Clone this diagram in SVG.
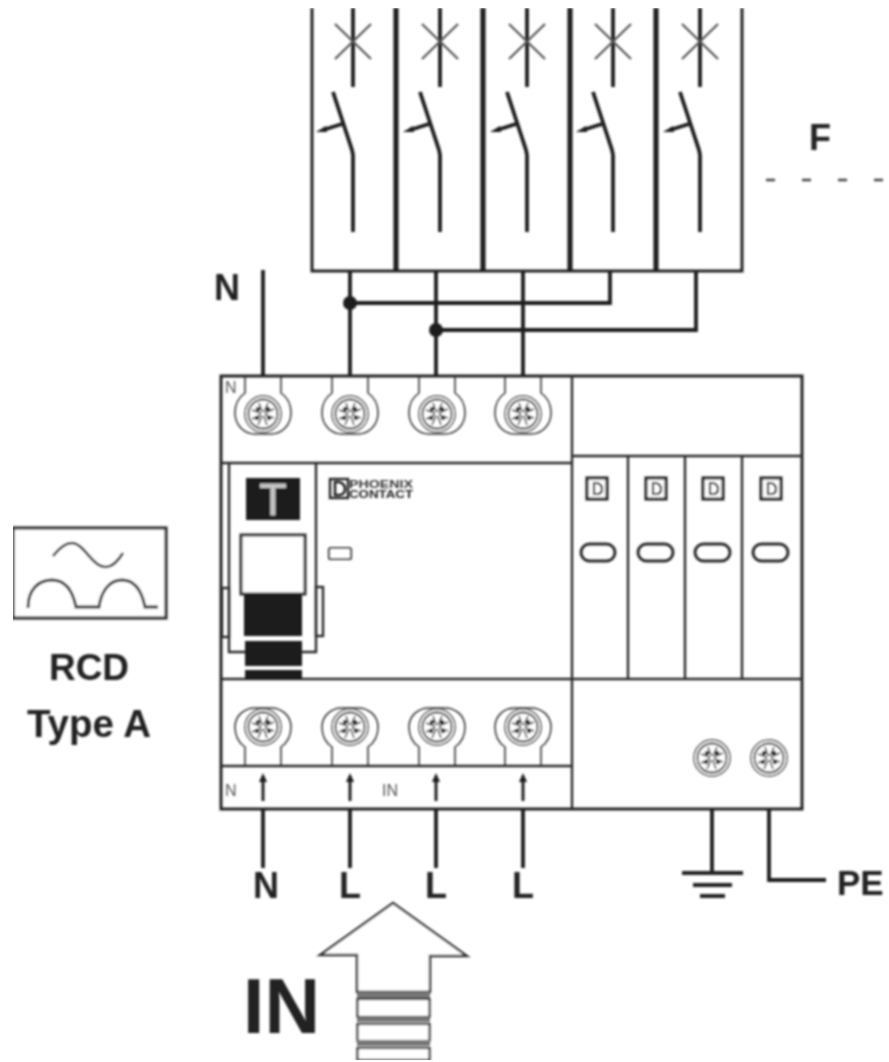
<svg xmlns="http://www.w3.org/2000/svg" xmlns:xlink="http://www.w3.org/1999/xlink" width="889" height="1062" viewBox="0 0 889 1062">
<style>
text{font-family:"Liberation Sans",Arial,sans-serif;fill:#222}
.b{font-weight:bold}
.c{text-anchor:middle}
.l{fill:none;stroke:#222;stroke-width:3}
.w{fill:none;stroke:#1c1c1c;stroke-width:3.8;stroke-linecap:butt}
.tb{fill:none;stroke:#1c1c1c;stroke-width:5}
.m{fill:none;stroke:#2a2a2a;stroke-width:2.4}
.t{fill:none;stroke:#333;stroke-width:1.5}
.k{fill:#1c1c1c}
.s{font-size:16px;fill:#555}
</style>
<defs>
<filter id="soft" x="0" y="0" width="100%" height="100%"><feGaussianBlur stdDeviation="0.8"/></filter>
<g id="screw">
<circle r="18" fill="#fff" stroke="#444" stroke-width="1.5"/>
<circle r="14.500" fill="none" stroke="#333" stroke-width="1.8"/>
<path d="M-11-4L11 4M-11 5L11-5M-4-11L4 11M5-11L-5 11" stroke="#333" stroke-width="1.5"/>
<circle cx="-5" cy="-5" r="2.300" fill="#222"/><circle cx="5" cy="-5" r="2.300" fill="#222"/><circle cx="-6" cy="4" r="2.300" fill="#222"/><circle cx="6" cy="4" r="2.300" fill="#222"/><circle cy="0" r="2.200" fill="#fff"/>
</g>
<g id="termTop">
<path class="t" d="M-18 1V17C-24 21-28 28-28 37C-28 49-19 58-8 58H8C19 58 28 49 28 37C28 28 24 21 18 17V1"/>
<use xlink:href="#screw" y="38"/>
</g>
<g id="termBot">
<path class="t" d="M-18-1V-19C-24-23-28-30-28-39C-28-50-19-58-8-58H8C19-58 28-50 28-39C28-30 24-23 18-19V-1"/>
<use xlink:href="#screw" y="-39"/>
</g>
<g id="breaker">
<path class="w" d="M0 8V87"/>
<path d="M-18 24L18 59M18 24L-18 59" stroke="#555" stroke-width="2.200"/>
<path class="w" stroke-linejoin="round" d="M-20 92L-1 150L0 155V232"/>
<path class="w" d="M-11 124L-30 130"/>
<path class="k" d="M-37 132L-27 126L-26 132Z"/>
</g>
<g id="inArrow"><path d="M0-7V15" stroke="#222" stroke-width="3"/><path class="k" d="M0-13L4-4H-4Z"/></g>
<g id="miniLogo"><rect x="0" y="0" width="20" height="21" fill="#fff" stroke="#1f1f1f" stroke-width="3"/><path d="M7 5H10C14 6 15 9 15 11C15 14 13 16 10 16H7Z" fill="none" stroke="#222" stroke-width="2.200"/></g>
</defs>
<rect width="889" height="1062" fill="#fff"/>
<g filter="url(#soft)">
<g id="connectors">
<path class="l" d="M312 8V271H742V8"/>
<path class="tb" d="M396 8V271M483 8V271M570 8V271M656 8V271"/>
<path class="w" d="M263 270V375M350 271V375M436 271V375M523 271V375"/>
<path class="w" d="M350 303H610V271M436 330H696V271"/>
<circle class="k" cx="350" cy="303" r="7"/>
<circle class="k" cx="436" cy="330" r="7"/>
<path class="w" d="M263 808V868M350 808V868M436 808V868M523 808V868"/>
<path class="w" d="M712 808V873M769 808V880H826"/>
<path d="M682 873H743M693 885H732M700 896H725" stroke="#222" stroke-width="4"/>
</g>
<g id="breakers">
<use xlink:href="#breaker" x="353"/><use xlink:href="#breaker" x="440"/><use xlink:href="#breaker" x="527"/><use xlink:href="#breaker" x="613"/><use xlink:href="#breaker" x="700"/>
</g>
<g id="fLabel">
<text class="b c" x="820" y="150" font-size="36">F</text>
<path d="M766 180H889" stroke="#444" stroke-width="2.400" stroke-dasharray="9 27"/>
</g>
<g id="topN"><text class="b c" x="227" y="300" font-size="36">N</text></g>
<g id="device">
<rect x="221" y="376" width="581" height="433" fill="#fff" class="l"/>
<path class="m" d="M221 463H572M572 456H802M221 679H802M221 766H572M572 376V808"/>
<path class="m" d="M628 456V679M685 456V679M742 456V679"/>
<g id="topTerminals">
<use xlink:href="#termTop" x="263" y="376"/><use xlink:href="#termTop" x="350" y="376"/><use xlink:href="#termTop" x="437" y="376"/><use xlink:href="#termTop" x="523" y="376"/>
</g>
<g id="botTerminals">
<use xlink:href="#termBot" x="263" y="766"/><use xlink:href="#termBot" x="350" y="766"/><use xlink:href="#termBot" x="437" y="766"/><use xlink:href="#termBot" x="523" y="766"/>
</g>
<text class="s" x="225" y="393">N</text>
<text class="s" x="225" y="796">N</text>
<text class="s" x="382" y="796">IN</text>
<use xlink:href="#inArrow" x="263" y="786"/><use xlink:href="#inArrow" x="350" y="786"/><use xlink:href="#inArrow" x="436" y="786"/><use xlink:href="#inArrow" x="523" y="786"/>
<g id="testModule">
<path class="m" d="M229 463V652H245M302 652H316V463"/>
<rect class="m" x="222" y="588" width="7" height="49"/>
<rect class="m" x="316" y="587" width="7" height="49"/>
<rect x="246" y="478" width="54" height="42" fill="#1a1a1a"/>
<text x="273" y="515" font-size="44" class="c" style="fill:#c4c4c4;stroke:#c4c4c4;stroke-width:1">T</text>
<rect x="241" y="535" width="64" height="59" fill="#fff" stroke="#333" stroke-width="3"/>
<rect x="244" y="594" width="58" height="42" fill="#1a1a1a"/>
<rect x="245" y="641" width="57" height="25" fill="#1a1a1a"/>
<rect x="245" y="670" width="57" height="9" fill="#1a1a1a"/>
</g>
<g id="logo">
<rect x="330" y="479" width="18" height="19" fill="none" stroke="#222" stroke-width="2.400"/>
<path d="M335 482H339C343 483 345 486 345 489C345 492 343 495 339 495H335Z" fill="none" stroke="#222" stroke-width="2.600"/>
<text class="b" x="349" y="488" font-size="10" textLength="64" lengthAdjust="spacingAndGlyphs" style="fill:#333">PHOENIX</text>
<text class="b" x="349" y="498" font-size="10" textLength="64" lengthAdjust="spacingAndGlyphs" style="fill:#222">CONTACT</text>
</g>
<rect x="329" y="548" width="22" height="11" rx="1.500" fill="#fff" stroke="#444" stroke-width="2.200"/>
<g id="spdModules">
<use xlink:href="#miniLogo" x="587" y="478"/><use xlink:href="#miniLogo" x="646" y="478"/><use xlink:href="#miniLogo" x="703" y="478"/><use xlink:href="#miniLogo" x="761" y="478"/>
<rect class="m" style="stroke-width:3" x="581" y="544" width="34" height="17" rx="8.500"/>
<rect class="m" style="stroke-width:3" x="638" y="544" width="35" height="17" rx="8.500"/>
<rect class="m" style="stroke-width:3" x="695" y="544" width="35" height="17" rx="8.500"/>
<rect class="m" style="stroke-width:3" x="753" y="544" width="35" height="17" rx="8.500"/>
</g>
<use xlink:href="#screw" x="712" y="758"/><use xlink:href="#screw" x="769" y="758"/>
</g>
<g id="bottomLabels">
<text class="b c" x="266" y="898" font-size="36">N</text>
<text class="b c" x="350" y="898" font-size="36">L</text>
<text class="b c" x="436" y="898" font-size="36">L</text>
<text class="b c" x="523" y="898" font-size="36">L</text>
<text class="b" x="837" y="895" font-size="35">PE</text>
</g>
<g id="rcdSymbol">
<rect x="13" y="528" width="153" height="90" fill="#fff" stroke="#333" stroke-width="3.200"/>
<path class="m" style="stroke-width:2.600" d="M53 556C60 547 66 543 72 543C84 543 92 567 106 567C112 567 118 561 123 553"/>
<path class="m" style="stroke-width:2.800" d="M28 608C28 590 38 580 52 580C66 580 73 592 76 607H99C101 592 109 580 122 580C135 580 142 592 145 607H158"/>
<text class="b c" x="89" y="680" font-size="37">RCD</text>
<text class="b c" x="89" y="737" font-size="38.500">Type A</text>
</g>
<g id="inSymbol">
<text class="b" x="243" y="1033" font-size="77">IN</text>
<path d="M320 955L393 903L467 956H430V992H357V955Z" fill="#fff" stroke="#333" stroke-width="2.400"/>
<rect x="357" y="992" width="73" height="7" fill="#777"/>
<rect x="357.500" y="999" width="72" height="18" fill="#fff" stroke="#333" stroke-width="2.200"/>
<rect x="357" y="1017" width="73" height="5" fill="#777"/>
<rect x="357.500" y="1024" width="72" height="17" fill="#fff" stroke="#333" stroke-width="2.200"/>
<rect x="357" y="1040" width="73" height="6" fill="#777"/>
<rect x="357.500" y="1048" width="72" height="12" fill="#fff" stroke="#333" stroke-width="2.200"/>
</g>
</g>
</svg>
